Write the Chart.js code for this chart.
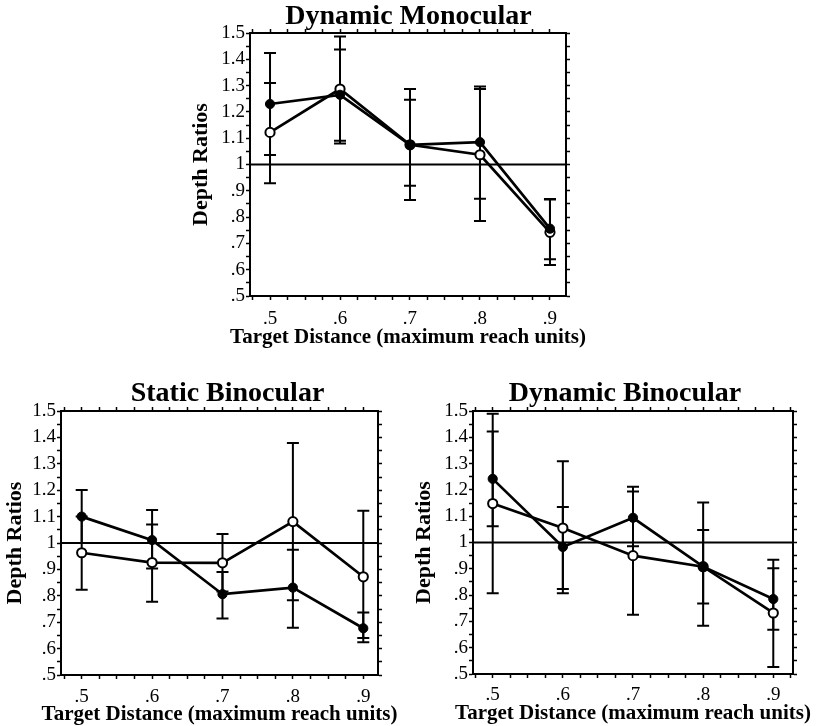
<!DOCTYPE html>
<html>
<head>
<meta charset="utf-8">
<script src="https://cdn.jsdelivr.net/npm/chart.js@4/dist/chart.umd.min.js"></script>
<style>
  html, body { margin: 0; padding: 0; background: #fff; width: 823px; height: 726px; overflow: hidden; }
  canvas { position: absolute; }
</style>
</head>
<body>
<canvas id="dynMono" width="457" height="350" style="left:180px;top:0px"></canvas>
<canvas id="statBino" width="455" height="350" style="left:0px;top:376px"></canvas>
<canvas id="dynBino" width="440" height="350" style="left:405px;top:376px"></canvas>
<script>
// target distances (maximum reach units)
const distances = [0.5, 0.6, 0.7, 0.8, 0.9];
const xTickLabels = [".5", ".6", ".7", ".8", ".9"];
const yTickValues = [0.5, 0.6, 0.7, 0.8, 0.9, 1.0, 1.1, 1.2, 1.3, 1.4, 1.5];
const yTickLabels = [".5", ".6", ".7", ".8", ".9", "1", "1.1", "1.2", "1.3", "1.4", "1.5"];
const refValue = 1;

// Dynamic Monocular
const dmFilled   = [1.230, 1.265, 1.075, 1.085, 0.756];
const dmFilledLo = [1.036, 1.090, 0.919, 0.870, 0.640];
const dmFilledHi = [1.424, 1.437, 1.246, 1.297, 0.869];
const dmOpen     = [1.122, 1.287, 1.075, 1.037, 0.742];
const dmOpenLo   = [0.929, 1.080, 0.865, 0.785, 0.618];
const dmOpenHi   = [1.310, 1.487, 1.287, 1.287, 0.867];

// Static Binocular
const sbFilled   = [1.100, 1.011, 0.806, 0.831, 0.677];
const sbFilledLo = [1.000, 0.903, 0.714, 0.679, 0.640];
const sbFilledHi = [1.201, 1.125, 0.890, 0.974, 0.737];
const sbOpen     = [0.963, 0.926, 0.925, 1.081, 0.872];
const sbOpenLo   = [0.823, 0.777, 0.816, 0.783, 0.624];
const sbOpenHi   = [1.100, 1.070, 1.034, 1.379, 1.122];

// Dynamic Binocular
const dbFilled   = [1.242, 0.983, 1.094, 0.908, 0.785];
const dbFilledLo = [1.062, 0.823, 0.986, 0.768, 0.668];
const dbFilledHi = [1.422, 1.135, 1.194, 1.048, 0.902];
const dbOpen     = [1.148, 1.055, 0.950, 0.908, 0.732];
const dbOpenLo   = [0.807, 0.807, 0.725, 0.683, 0.527];
const dbOpenHi   = [1.490, 1.309, 1.212, 1.152, 0.934];

const FONT = "'Liberation Serif', 'Times New Roman', serif";
const X_TITLE = "Target Distance (maximum reach units)";

// minor ticks every .025 on x, every .05 on y
const xTicks = [];
for (let k = 19; k <= 37; k++) xTicks.push(k / 40);
const yTicks = [];
for (let k = 10; k <= 30; k++) yTicks.push(k / 20);

function labelFor(v, values, labels) {
  const i = values.findIndex(t => Math.abs(t - v) < 1e-6);
  return i >= 0 ? labels[i] : "";
}

const refLine = {
  id: "refLine",
  beforeDatasetsDraw(chart) {
    const { ctx, chartArea, scales } = chart;
    const py = scales.y.getPixelForValue(refValue);
    ctx.save();
    ctx.strokeStyle = "#000";
    ctx.lineWidth = 2;
    ctx.beginPath();
    ctx.moveTo(chartArea.left, py);
    ctx.lineTo(chartArea.right, py);
    ctx.stroke();
    ctx.restore();
  }
};

const errorBars = {
  id: "errorBars",
  beforeDatasetsDraw(chart) {
    const { ctx, chartArea, scales: { x, y } } = chart;
    const cap = 6;
    ctx.save();
    ctx.beginPath();
    ctx.rect(chartArea.left, chartArea.top, chartArea.width, chartArea.height);
    ctx.clip();
    ctx.strokeStyle = "#000";
    ctx.lineWidth = 2;
    chart.data.datasets.forEach(ds => {
      ds.data.forEach((p, i) => {
        const px = x.getPixelForValue(p.x);
        const lo = y.getPixelForValue(ds.errorLow[i]);
        const hi = y.getPixelForValue(ds.errorHigh[i]);
        ctx.beginPath();
        ctx.moveTo(px, lo); ctx.lineTo(px, hi);
        ctx.moveTo(px - cap, lo); ctx.lineTo(px + cap, lo);
        ctx.moveTo(px - cap, hi); ctx.lineTo(px + cap, hi);
        ctx.stroke();
      });
    });
    ctx.restore();
  }
};

// x axis title drawn without the axis-width squeeze chart.js applies
const xTitle = {
  id: "xTitle",
  afterDraw(chart, args, opts) {
    const { ctx, chartArea } = chart;
    ctx.save();
    ctx.fillStyle = "#000";
    ctx.font = "bold 21px " + FONT;
    ctx.textAlign = "center";
    ctx.textBaseline = "alphabetic";
    ctx.fillText(opts.text, (chartArea.left + chartArea.right) / 2, opts.baseline);
    ctx.restore();
  }
};

function frameAxis(position, ticks, min, max, extra) {
  return Object.assign({
    type: "linear",
    position: position,
    min: min,
    max: max,
    afterBuildTicks: s => {
      s.ticks = ticks.filter(v => v >= min - 1e-9 && v <= max + 1e-9).map(v => ({ value: v }));
    },
    ticks: { display: false },
    grid: { display: true, drawOnChartArea: false, drawTicks: true, tickLength: 4, tickWidth: 1.5, tickColor: "#000" },
    border: { display: true, color: "#000", width: 2 }
  }, extra);
}

function makePanel(id, title, filled, filledLo, filledHi, open, openLo, openHi, L) {
  const pts = arr => distances.map((d, i) => ({ x: d, y: arr[i] }));
  new Chart(document.getElementById(id), {
    type: "line",
    data: {
      datasets: [
        {
          label: "filled",
          data: pts(filled),
          errorLow: filledLo,
          errorHigh: filledHi,
          borderColor: "#000",
          borderWidth: 2.7,
          pointRadius: 4.6,
          pointBackgroundColor: "#000",
          pointBorderColor: "#000",
          pointBorderWidth: 1
        },
        {
          label: "open",
          data: pts(open),
          errorLow: openLo,
          errorHigh: openHi,
          borderColor: "#000",
          borderWidth: 2.7,
          pointRadius: 4.6,
          pointBackgroundColor: "#fff",
          pointBorderColor: "#000",
          pointBorderWidth: 2
        }
      ]
    },
    options: {
      responsive: false,
      animation: false,
      layout: { padding: 0 },
      plugins: {
        legend: { display: false },
        tooltip: { enabled: false },
        title: {
          display: true,
          text: title,
          color: "#000",
          font: { family: FONT, size: 28, weight: "bold", lineHeight: 1 },
          padding: { top: L.titleTop, bottom: L.titleBottom }
        },
        xTitle: { text: X_TITLE, baseline: L.xTitleBase }
      },
      scales: {
        x: frameAxis("bottom", xTicks, L.xMin, L.xMax, {
          ticks: {
            display: true, autoSkip: false, maxRotation: 0, minRotation: 0,
            padding: L.xTickPad, color: "#000",
            font: { family: FONT, size: 19 },
            callback: v => labelFor(v, distances, xTickLabels)
          },
          afterFit: s => { s.height = L.xH; }
        }),
        x2: frameAxis("top", xTicks, L.xMin, L.xMax, {
          afterFit: s => { s.height = 2; }
        }),
        y: frameAxis("left", yTicks, 0.5, 1.5, {
          ticks: {
            display: true, autoSkip: false, padding: 1, color: "#000",
            font: { family: FONT, size: 19 },
            callback: v => labelFor(v, yTickValues, yTickLabels)
          },
          title: {
            display: true,
            text: "Depth Ratios",
            color: "#000",
            font: { family: FONT, size: 22, weight: "bold", lineHeight: 1 },
            padding: { top: L.yTitleTop, bottom: 0 }
          },
          afterFit: s => { s.width = L.yW; }
        }),
        y2: frameAxis("right", yTicks, 0.5, 1.5, {
          afterFit: s => { s.width = L.y2W; }
        })
      }
    },
    plugins: [refLine, errorBars, xTitle]
  });
}

makePanel("dynMono", "Dynamic Monocular", dmFilled, dmFilledLo, dmFilledHi, dmOpen, dmOpenLo, dmOpenHi,
  { xMin: 0.4714, xMax: 0.9229, yW: 70, y2W: 71, xH: 54, titleTop: 2.5, titleBottom: 0.5,
    xTickPad: 7.5, xTitleBase: 343, yTitleTop: 10 });

makePanel("statBino", "Static Binocular", sbFilled, sbFilledLo, sbFilledHi, sbOpen, sbOpenLo, sbOpenHi,
  { xMin: 0.4706, xMax: 0.9209, yW: 61, y2W: 77, xH: 51, titleTop: 3.5, titleBottom: 1.5,
    xTickPad: 6.5, xTitleBase: 344, yTitleTop: 4.3 });

makePanel("dynBino", "Dynamic Binocular", dbFilled, dbFilledLo, dbFilledHi, dbOpen, dbOpenLo, dbOpenHi,
  { xMin: 0.4719, xMax: 0.9281, yW: 68, y2W: 52, xH: 52, titleTop: 3.5, titleBottom: 1.5,
    xTickPad: 6, xTitleBase: 342.5, yTitleTop: 8 });
</script>
</body>
</html>
